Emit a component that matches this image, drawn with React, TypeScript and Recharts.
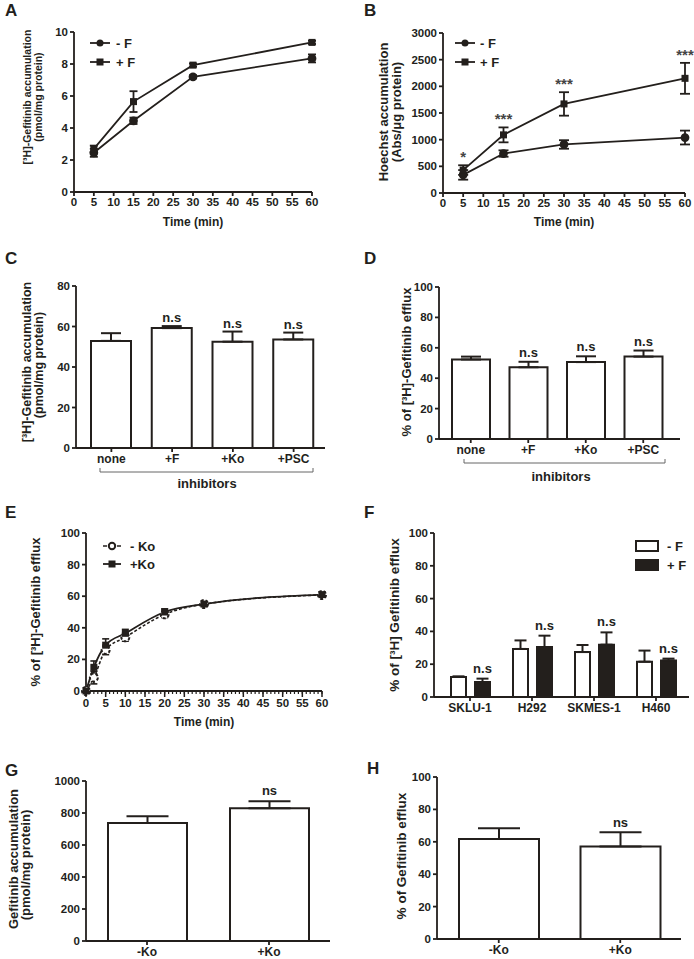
import React from 'react';
import { LineChart, Line, BarChart, Bar, XAxis, YAxis, ErrorBar, ReferenceDot } from 'recharts';

const INK = '#231f1c';
const FONT = "'Liberation Sans', Arial, Helvetica, sans-serif";

// A: [3H]-gefitinib accumulation over time
const timeA = [5, 15, 30, 60];
const aMinusF = [2.45, 4.45, 7.2, 8.35];
const aMinusFErr = [0.25, 0.2, 0.1, 0.25];
const aPlusF = [2.7, 5.65, 7.93, 9.35];
const aPlusFErr = [0.2, 0.65, 0.1, 0.1];
const timeTicks = [0, 5, 10, 15, 20, 25, 30, 35, 40, 45, 50, 55, 60];
const aYTicks = [0, 2, 4, 6, 8, 10];

// B: Hoechst accumulation
const timeB = [5, 15, 30, 60];
const bMinusF = [340, 740, 910, 1040];
const bMinusFErr = [90, 60, 80, 130];
const bPlusF = [430, 1090, 1670, 2150];
const bPlusFErr = [90, 140, 220, 290];
const bStars = ['*', '***', '***', '***'];
const bYTicks = [0, 500, 1000, 1500, 2000, 2500, 3000];

// C / D: inhibitors
const inhibitors = ['none', '+F', '+Ko', '+PSC'];
const cValues = [52.9, 59.2, 52.5, 53.6];
const cErr = [3.8, 1.0, 5.0, 3.4];
const dValues = [52.3, 47.2, 50.6, 54.2];
const dErr = [1.9, 3.6, 3.8, 4.0];
const inhibSig = ['', 'n.s', 'n.s', 'n.s'];
const cYTicks = [0, 20, 40, 60, 80];
const pctTicks = [0, 20, 40, 60, 80, 100];

// E: efflux time course
const timeE = [0, 2, 5, 10, 20, 30, 60];
const eMinusKo = [0, 8.5, 26, 34, 48.5, 55, 60.8];
const eMinusKoErr = [0, 4, 3, 2.5, 2, 1, 1];
const ePlusKo = [0, 15, 29, 36.5, 50, 55, 61];
const ePlusKoErr = [0, 4, 4, 2.5, 2, 1, 1.5];
const eMinorTicks = Array.from({ length: 61 }, (_, i) => i);

// F: cell lines
const cellLines = ['SKLU-1', 'H292', 'SKMES-1', 'H460'];
const fMinusF = [12.2, 29.3, 27.4, 21.5];
const fMinusFErr = [0.4, 5.2, 4.3, 6.8];
const fPlusF = [9.1, 30.5, 31.9, 22.2];
const fPlusFErr = [2.1, 6.9, 7.5, 1.2];
const fSig = ['n.s', 'n.s', 'n.s', 'n.s'];

// G / H: Ko143
const koGroups = ['-Ko', '+Ko'];
const gValues = [738, 830];
const gErr = [42, 43];
const gYTicks = [0, 200, 400, 600, 800, 1000];
const hValues = [61.8, 57.1];
const hErr = [6.6, 8.8];
const koSig = ['', 'ns'];

// plot rectangles in page pixels
const PLOT: Record<string, { x0: number; x1: number; y0: number; y1: number }> = {
  A: { x0: 74, x1: 312, y0: 32, y1: 192 },
  B: { x0: 443, x1: 685, y0: 33, y1: 193 },
  C: { x0: 76, x1: 325, y0: 286, y1: 448 },
  D: { x0: 439, x1: 680, y0: 287, y1: 439 },
  E: { x0: 86, x1: 322, y0: 533, y1: 691 },
  F: { x0: 434, x1: 689, y0: 533, y1: 697 },
  G: { x0: 86, x1: 330, y0: 781, y1: 941 },
  H: { x0: 437, x1: 681, y0: 777, y1: 939 },
};

const PL = 50;
const PT = 14;
const PR = 12;
const PB = 28;

function frame(p: { x0: number; x1: number; y0: number; y1: number }) {
  return {
    style: { position: 'absolute' as const, left: p.x0 - PL, top: p.y0 - PT },
    width: p.x1 - p.x0 + PL + PR,
    height: p.y1 - p.y0 + PT + PB,
    margin: { top: PT, right: PR, bottom: 0, left: 0 },
  };
}

const SW = 1.8;
const axisLine = { stroke: INK, strokeWidth: SW };
const numFont = { fill: INK, fontSize: 11.5, fontWeight: 700 };
const catFont = { fill: INK, fontSize: 12, fontWeight: 700 };

const squareDot = (size: number) => (p: any) => (
  <rect key={`sq-${p.index}`} x={p.cx - size / 2} y={p.cy - size / 2} width={size} height={size} fill={INK} />
);

// label above the error cap of a bar
function sigLabel(marks: string[], values: number[], errs: number[], offset: number) {
  return (p: any) => {
    const i = p.index;
    if (!marks[i]) return null;
    const vb = p.viewBox ?? p;
    const x = vb.x ?? p.x;
    const y = vb.y ?? p.y;
    const w = vb.width ?? p.width;
    const h = Math.abs(vb.height ?? p.height);
    const px = h / values[i];
    return (
      <text key={`sig-${i}`} x={x + w / 2} y={y - errs[i] * px - offset} textAnchor="middle" fill={INK} fontSize={13} fontWeight={700}>
        {marks[i]}
      </text>
    );
  };
}

function yAxisProps(max: number, ticks: number[]) {
  return {
    width: PL,
    domain: [0, max] as [number, number],
    ticks,
    interval: 0 as const,
    tickSize: 4,
    tickMargin: 2,
    axisLine,
    tickLine: axisLine,
    tick: numFont,
  };
}

function PanelA() {
  const f = frame(PLOT.A);
  const data = timeA.map((t, i) => ({ time: t, minusF: aMinusF[i], minusFErr: aMinusFErr[i], plusF: aPlusF[i], plusFErr: aPlusFErr[i] }));
  return (
    <div style={f.style}>
      <LineChart width={f.width} height={f.height} data={data} margin={f.margin}>
        <XAxis dataKey="time" type="number" domain={[0, 60]} ticks={timeTicks} interval={0} height={PB} tickSize={4} tickMargin={2} axisLine={axisLine} tickLine={axisLine} tick={numFont} />
        <YAxis {...yAxisProps(10, aYTicks)} />
        <Line dataKey="minusF" stroke={INK} strokeWidth={SW} dot={{ r: 3.5, fill: INK, stroke: INK }} isAnimationActive={false}>
          <ErrorBar dataKey="minusFErr" width={4} stroke={INK} strokeWidth={SW} direction="y" />
        </Line>
        <Line dataKey="plusF" stroke={INK} strokeWidth={SW} dot={squareDot(7)} isAnimationActive={false}>
          <ErrorBar dataKey="plusFErr" width={4} stroke={INK} strokeWidth={SW} direction="y" />
        </Line>
      </LineChart>
    </div>
  );
}

function PanelB() {
  const f = frame(PLOT.B);
  const data = timeB.map((t, i) => ({ time: t, minusF: bMinusF[i], minusFErr: bMinusFErr[i], plusF: bPlusF[i], plusFErr: bPlusFErr[i] }));
  return (
    <div style={f.style}>
      <LineChart width={f.width} height={f.height} data={data} margin={f.margin}>
        <XAxis dataKey="time" type="number" domain={[0, 60]} ticks={timeTicks} interval={0} height={PB} tickSize={4} tickMargin={2} axisLine={axisLine} tickLine={axisLine} tick={numFont} />
        <YAxis {...yAxisProps(3000, bYTicks)} />
        <Line dataKey="minusF" stroke={INK} strokeWidth={SW} dot={{ r: 3.5, fill: INK, stroke: INK }} isAnimationActive={false}>
          <ErrorBar dataKey="minusFErr" width={5} stroke={INK} strokeWidth={SW} direction="y" />
        </Line>
        <Line dataKey="plusF" stroke={INK} strokeWidth={SW} dot={squareDot(7)} isAnimationActive={false}>
          <ErrorBar dataKey="plusFErr" width={5} stroke={INK} strokeWidth={SW} direction="y" />
        </Line>
        {timeB.map((t, i) => (
          <ReferenceDot
            key={t}
            x={t}
            y={bPlusF[i] + bPlusFErr[i]}
            r={0}
            fill="none"
            stroke="none"
            label={{ value: bStars[i], position: 'top', offset: 3, fill: '#444', fontSize: 15, fontWeight: 700 }}
          />
        ))}
      </LineChart>
    </div>
  );
}

function ETick(p: any) {
  const { x, y, payload } = p;
  if (!timeTicks.includes(payload.value)) return <g />;
  const axisY = y - 5;
  return (
    <g>
      <line x1={x} x2={x} y1={axisY} y2={axisY + 6} stroke={INK} strokeWidth={1.5} />
      <text x={x} y={axisY + 8} dy="0.71em" textAnchor="middle" fill={INK} fontSize={11.5} fontWeight={700}>
        {payload.value}
      </text>
    </g>
  );
}

function PanelE() {
  const f = frame(PLOT.E);
  const data = timeE.map((t, i) => ({ time: t, minusKo: eMinusKo[i], minusKoErr: eMinusKoErr[i], plusKo: ePlusKo[i], plusKoErr: ePlusKoErr[i] }));
  return (
    <div style={f.style}>
      <LineChart width={f.width} height={f.height} data={data} margin={f.margin}>
        <XAxis dataKey="time" type="number" domain={[0, 60]} ticks={eMinorTicks} interval={0} height={PB} tickSize={3} tickMargin={2} axisLine={axisLine} tickLine={{ stroke: INK, strokeWidth: 1.2 }} tick={(p: any) => <ETick {...p} />} />
        <YAxis {...yAxisProps(100, pctTicks)} />
        <Line type="monotone" dataKey="minusKo" stroke={INK} strokeWidth={1.6} strokeDasharray="3 2" dot={{ r: 4, fill: '#fff', stroke: INK, strokeWidth: 2 }} isAnimationActive={false}>
          <ErrorBar dataKey="minusKoErr" width={3.5} stroke={INK} strokeWidth={1.6} direction="y" />
        </Line>
        <Line type="monotone" dataKey="plusKo" stroke={INK} strokeWidth={SW} dot={squareDot(7)} isAnimationActive={false}>
          <ErrorBar dataKey="plusKoErr" width={3.5} stroke={INK} strokeWidth={1.6} direction="y" />
        </Line>
      </LineChart>
    </div>
  );
}

function BarPanel({ plot, cats, values, errs, marks, max, ticks, barSize, cap, pad, offset }: any) {
  const f = frame(plot);
  const data = cats.map((c: string, i: number) => ({ cat: c, value: values[i], err: [0, errs[i]] }));
  return (
    <div style={f.style}>
      <BarChart width={f.width} height={f.height} data={data} margin={f.margin}>
        <XAxis dataKey="cat" interval={0} height={PB} padding={pad} tickSize={4} tickMargin={2} axisLine={axisLine} tickLine={axisLine} tick={catFont} />
        <YAxis {...yAxisProps(max, ticks)} />
        <Bar dataKey="value" fill="#fff" stroke={INK} strokeWidth={2} barSize={barSize} isAnimationActive={false} label={sigLabel(marks, values, errs, offset)}>
          <ErrorBar dataKey="err" width={cap} stroke={INK} strokeWidth={2} direction="y" />
        </Bar>
      </BarChart>
    </div>
  );
}

function PanelF() {
  const f = frame(PLOT.F);
  const data = cellLines.map((c, i) => ({ cat: c, minusF: fMinusF[i], minusFErr: [0, fMinusFErr[i]], plusF: fPlusF[i], plusFErr: [0, fPlusFErr[i]] }));
  return (
    <div style={f.style}>
      <BarChart width={f.width} height={f.height} data={data} margin={f.margin} barGap={9}>
        <XAxis dataKey="cat" interval={0} height={PB} padding={{ left: 5, right: 2 }} tickSize={4} tickMargin={2} axisLine={axisLine} tickLine={axisLine} tick={catFont} />
        <YAxis {...yAxisProps(100, pctTicks)} />
        <Bar dataKey="minusF" fill="#fff" stroke={INK} strokeWidth={2} barSize={15} isAnimationActive={false}>
          <ErrorBar dataKey="minusFErr" width={6} stroke={INK} strokeWidth={2} direction="y" />
        </Bar>
        <Bar dataKey="plusF" fill={INK} stroke={INK} strokeWidth={2} barSize={15} isAnimationActive={false} label={sigLabel(fSig, fPlusF, fPlusFErr, 6)}>
          <ErrorBar dataKey="plusFErr" width={6} stroke={INK} strokeWidth={2} direction="y" />
        </Bar>
      </BarChart>
    </div>
  );
}

function VText({ x, y, size, children }: any) {
  return (
    <text transform={`translate(${x},${y}) rotate(-90)`} textAnchor="middle" fontSize={size} fontWeight={700} fill={INK}>
      {children}
    </text>
  );
}

function HText({ x, y, size, anchor = 'middle', children }: any) {
  return (
    <text x={x} y={y} textAnchor={anchor} fontSize={size} fontWeight={700} fill={INK}>
      {children}
    </text>
  );
}

function Overlay() {
  const letters: [string, number, number][] = [
    ['A', 5, 16], ['B', 364, 16], ['C', 5, 264], ['D', 364, 264],
    ['E', 5, 518], ['F', 364, 518], ['G', 5, 776], ['H', 367, 774],
  ];
  return (
    <svg width={694} height={959} style={{ position: 'absolute', left: 0, top: 0, pointerEvents: 'none' }} fontFamily={FONT}>
      {letters.map(([l, x, y]) => (
        <HText key={l} x={x} y={y} size={17} anchor="start">{l}</HText>
      ))}

      {/* y axis titles */}
      <VText x={31} y={97} size={10.5}>[³H]-Gefitinib accumulation</VText>
      <VText x={42} y={97} size={10.5}>(pmol/mg protein)</VText>
      <VText x={388} y={112} size={13}>Hoechst accumulation</VText>
      <VText x={401} y={112} size={13}>(Abs/μg protein)</VText>
      <VText x={30.5} y={362} size={12.5}>[³H]-Gefitinib accumulation</VText>
      <VText x={42.5} y={365} size={12.5}>(pmol/mg protein)</VText>
      <VText x={411} y={362} size={13}>% of [³H]-Gefitinib efflux</VText>
      <VText x={40} y={612} size={13}>% of [³H]-Gefitinib efflux</VText>
      <VText x={399} y={615} size={13.5}>% of [³H] Gefitinib efflux</VText>
      <VText x={18} y={859} size={13}>Gefitinib accumulation</VText>
      <VText x={30} y={865} size={13}>(pmol/mg protein)</VText>
      <VText x={406} y={856} size={13.5}>% of Gefitinib efflux</VText>

      {/* x axis titles */}
      <HText x={193} y={226} size={12}>Time (min)</HText>
      <HText x={564} y={226} size={12}>Time (min)</HText>
      <HText x={204} y={726} size={12}>Time (min)</HText>

      {/* inhibitor brackets */}
      <path d="M100,468 V472 H313 V468" fill="none" stroke="#666" strokeWidth={1} />
      <HText x={207} y={488} size={13}>inhibitors</HText>
      <path d="M464,459 V463 H665 V459" fill="none" stroke="#666" strokeWidth={1} />
      <HText x={561} y={481} size={13}>inhibitors</HText>

      {/* legend A */}
      <line x1={90} x2={110} y1={43} y2={43} stroke={INK} strokeWidth={SW} />
      <circle cx={100} cy={43} r={3.5} fill={INK} />
      <HText x={116} y={47.5} size={13} anchor="start">- F</HText>
      <line x1={90} x2={110} y1={62} y2={62} stroke={INK} strokeWidth={SW} />
      <rect x={96.5} y={58.5} width={7} height={7} fill={INK} />
      <HText x={116} y={66.5} size={13} anchor="start">+ F</HText>

      {/* legend B */}
      <line x1={455} x2={475} y1={43} y2={43} stroke={INK} strokeWidth={SW} />
      <circle cx={465} cy={43} r={3.5} fill={INK} />
      <HText x={480} y={47.5} size={13} anchor="start">- F</HText>
      <line x1={455} x2={475} y1={62} y2={62} stroke={INK} strokeWidth={SW} />
      <rect x={461.5} y={58.5} width={7} height={7} fill={INK} />
      <HText x={480} y={66.5} size={13} anchor="start">+ F</HText>

      {/* legend E */}
      <line x1={103} x2={107} y1={546} y2={546} stroke={INK} strokeWidth={1.5} />
      <line x1={117} x2={121} y1={546} y2={546} stroke={INK} strokeWidth={1.5} />
      <circle cx={112} cy={546} r={3.2} fill="#fff" stroke={INK} strokeWidth={2} />
      <HText x={130} y={550.5} size={13} anchor="start">- Ko</HText>
      <line x1={103} x2={121} y1={564} y2={564} stroke={INK} strokeWidth={SW} />
      <rect x={108.5} y={560.5} width={7} height={7} fill={INK} />
      <HText x={130} y={568.5} size={13} anchor="start">+Ko</HText>

      {/* legend F */}
      <rect x={636} y={541} width={22} height={10} fill="#fff" stroke={INK} strokeWidth={2} />
      <HText x={667} y={551} size={13} anchor="start">- F</HText>
      <rect x={635} y={559} width={24} height={12} fill={INK} />
      <HText x={667} y={570} size={13} anchor="start">+ F</HText>
    </svg>
  );
}

export default function App() {
  return (
    <div style={{ position: 'absolute', left: 0, top: 0, width: 694, height: 959, overflow: 'hidden', background: '#fff', fontFamily: FONT, color: INK }}>
      <PanelA />
      <PanelB />
      <BarPanel plot={PLOT.C} cats={inhibitors} values={cValues} errs={cErr} marks={inhibSig} max={80} ticks={cYTicks} barSize={40} cap={10} pad={{ left: 5, right: 1 }} offset={4} />
      <BarPanel plot={PLOT.D} cats={inhibitors} values={dValues} errs={dErr} marks={inhibSig} max={100} ticks={pctTicks} barSize={38} cap={10} pad={{ left: 3, right: 8 }} offset={5} />
      <PanelE />
      <PanelF />
      <BarPanel plot={PLOT.G} cats={koGroups} values={gValues} errs={gErr} marks={koSig} max={1000} ticks={gYTicks} barSize={79} cap={21} pad={{ left: 0, right: 0 }} offset={6} />
      <BarPanel plot={PLOT.H} cats={koGroups} values={hValues} errs={hErr} marks={koSig} max={100} ticks={pctTicks} barSize={80} cap={21} pad={{ left: 1, right: 0 }} offset={5} />
      <Overlay />
    </div>
  );
}
